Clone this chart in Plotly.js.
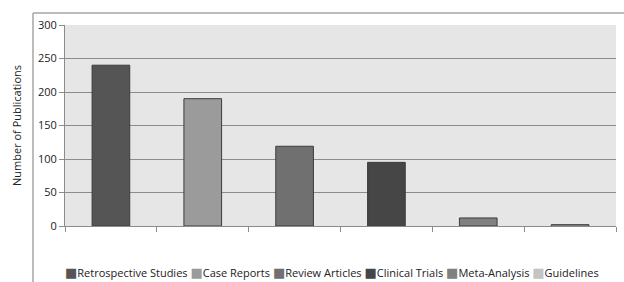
<!DOCTYPE html>
<html>
<head>
<meta charset="utf-8">
<script src="https://cdn.plot.ly/plotly-3.0.1.min.js"></script>
<style>html,body{margin:0;padding:0;background:#fff;}#chart{width:624px;height:282px;}</style>
</head>
<body>
<div id="chart"></div>
<script>
// Data
var categories = ["Retrospective Studies", "Case Reports", "Review Articles", "Clinical Trials", "Meta-Analysis", "Guidelines"];
var counts = [240, 190, 119, 95, 12, 2];
var barColors = ["#555555", "#9b9b9b", "#707070", "#464646", "#808080", "#c4c4c4"];
var yTitle = "Number of Publications";

var FONT = "Open Sans, Noto Sans, sans-serif";

var traces = categories.map(function (c, i) {
  return {
    type: "bar",
    name: c,
    x: [c],
    y: [counts[i]],
    width: 0.41,
    marker: { color: barColors[i], line: { color: "#3c3c3c", width: 1 } },
    showlegend: false,
    hoverinfo: "x+y"
  };
});

// Legend built as one text line from the category names and colours
var legendText = categories.map(function (c, i) {
  return '<span style="color:' + barColors[i] + ';font-family:DejaVu Sans;font-size:13px">■</span>' + c;
}).join(" ");

var layout = {
  width: 624,
  height: 282,
  margin: { l: 65, r: 8, t: 25, b: 56 },
  paper_bgcolor: "#ffffff",
  plot_bgcolor: "#e6e6e6",
  barmode: "overlay",
  font: { family: FONT, size: 11, color: "#222222" },
  xaxis: {
    type: "category",
    categoryorder: "array",
    categoryarray: categories,
    showticklabels: false,
    ticks: "outside",
    tickson: "boundaries",
    ticklen: 5,
    tickcolor: "#8c8c8c",
    tickwidth: 1,
    showline: true,
    linecolor: "#8c8c8c",
    linewidth: 1,
    showgrid: false,
    zeroline: false,
    fixedrange: true
  },
  yaxis: {
    range: [0, 300],
    dtick: 50,
    tick0: 0,
    ticks: "outside",
    ticklen: 5,
    tickcolor: "#8c8c8c",
    showline: true,
    linecolor: "#8c8c8c",
    linewidth: 1,
    gridcolor: "#8c8c8c",
    gridwidth: 1,
    zeroline: false,
    tickfont: { family: FONT, size: 11, color: "#222222" },
    title: { text: yTitle, font: { family: FONT, size: 11, color: "#222222" }, standoff: 14 },
    fixedrange: true
  },
  shapes: [
    { type: "line", xref: "paper", yref: "paper", x0: -0.0581, x1: -0.0581, y0: 1.0597, y1: -0.285, line: { color: "#a6a6a6", width: 1.5 } },
    { type: "line", xref: "paper", yref: "paper", x0: -0.0581, x1: 1.02, y0: 1.0597, y1: 1.0597, line: { color: "#a6a6a6", width: 1.5 } }
  ],
  annotations: [
    { text: legendText, xref: "paper", yref: "paper", x: 0.485, y: -0.229, xanchor: "center", yanchor: "middle",
      showarrow: false, font: { family: FONT, size: 11, color: "#222222" } }
  ],
  showlegend: false
};

Plotly.newPlot("chart", traces, layout, { displayModeBar: false, staticPlot: true });
</script>
</body>
</html>
